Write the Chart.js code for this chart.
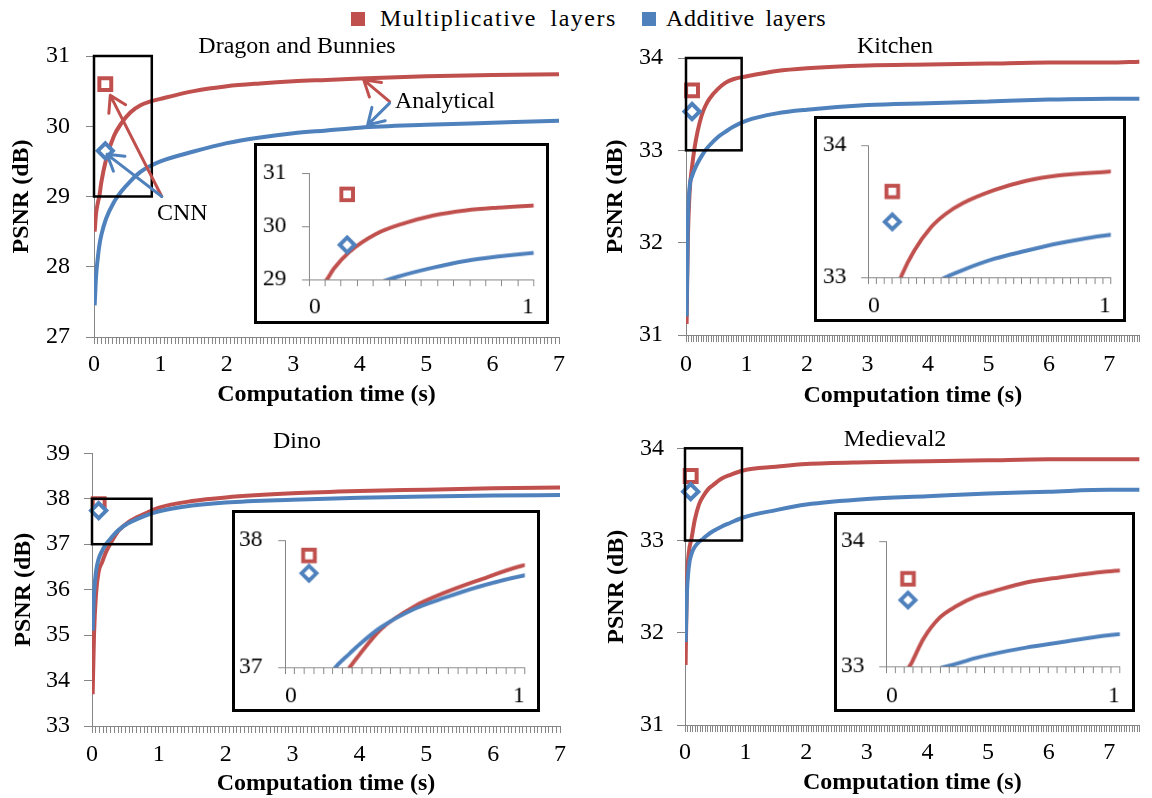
<!DOCTYPE html>
<html>
<head>
<meta charset="utf-8">
<script src="https://cdn.jsdelivr.net/npm/chart.js@4.4.0/dist/chart.umd.min.js"></script>
<style>
  html, body { margin: 0; padding: 0; background: #fff; overflow: hidden; }
  #page { position: relative; width: 1152px; height: 798px; font-family: "Liberation Serif", "Times New Roman", serif; }
  canvas { position: absolute; }
  .inset { border: 3px solid #000; background: #fff; }
  .key { position: absolute; top: 12px; width: 14px; height: 14px; }
  .keytext { position: absolute; top: 4px; font-size: 24px; line-height: 28px; white-space: nowrap; }
</style>
</head>
<body>
<div id="page">
  <div class="key" style="left:351px;background:#C0504D"></div>
  <div class="keytext" style="left:380px;letter-spacing:1.5px;word-spacing:6px">Multiplicative layers</div>
  <div class="key" style="left:642px;background:#4F81BD"></div>
  <div class="keytext" style="left:666px;letter-spacing:0.6px;word-spacing:4px">Additive layers</div>
</div>
<script>
// ---- data ----
const panelTitles = ["Dragon and Bunnies", "Kitchen", "Dino", "Medieval2"];

const dragonTime = [0.01, 0.03, 0.06, 0.08, 0.11, 0.18, 0.3, 0.41, 0.55, 0.7, 0.84, 1.0, 1.5, 2, 2.5, 3, 3.5, 4, 5, 6, 7];
const dragonMult = [28.5, 28.75, 28.92, 29.0, 29.2, 29.52, 29.86, 30.04, 30.2, 30.3, 30.35, 30.39, 30.5, 30.57, 30.61, 30.64, 30.66, 30.68, 30.71, 30.73, 30.74];
const dragonAdd = [27.45, 27.85, 28.15, 28.3, 28.45, 28.68, 28.92, 29.07, 29.22, 29.35, 29.43, 29.5, 29.64, 29.76, 29.84, 29.9, 29.94, 29.98, 30.02, 30.05, 30.08];

const kitchenTime = [0.01, 0.03, 0.06, 0.1, 0.14, 0.19, 0.26, 0.32, 0.39, 0.52, 0.65, 0.78, 0.99, 1.5, 2, 3, 4, 5, 6, 7, 7.5];
const kitchenMult = [31.12, 32.0, 32.55, 32.82, 33.02, 33.2, 33.38, 33.48, 33.56, 33.66, 33.73, 33.77, 33.8, 33.86, 33.89, 33.92, 33.93, 33.94, 33.95, 33.95, 33.96];
const kitchenAdd = [31.2, 32.2, 32.6, 32.72, 32.79, 32.86, 32.94, 33.0, 33.055, 33.14, 33.2, 33.255, 33.32, 33.4, 33.44, 33.49, 33.51, 33.53, 33.55, 33.56, 33.56];

const dinoTime = [0.01, 0.03, 0.06, 0.1, 0.15, 0.21, 0.27, 0.31, 0.4, 0.54, 0.67, 0.8, 0.99, 1.5, 2, 3, 4, 5, 6, 7];
const dinoMult = [33.7, 35.0, 35.9, 36.4, 36.6, 36.83, 37.0, 37.1, 37.3, 37.48, 37.59, 37.68, 37.8, 37.95, 38.03, 38.12, 38.17, 38.2, 38.23, 38.25];
const dinoAdd = [35.1, 35.9, 36.4, 36.68, 36.85, 37.0, 37.11, 37.18, 37.315, 37.46, 37.55, 37.63, 37.72, 37.85, 37.92, 37.98, 38.02, 38.05, 38.07, 38.08];

const medievalTime = [0.01, 0.03, 0.06, 0.11, 0.16, 0.23, 0.3, 0.38, 0.46, 0.6, 0.74, 0.96, 1.5, 2, 3, 4, 5, 6, 7, 7.5];
const medievalMult = [31.65, 32.5, 32.85, 33.03, 33.22, 33.39, 33.48, 33.555, 33.6, 33.67, 33.71, 33.76, 33.8, 33.83, 33.85, 33.86, 33.87, 33.88, 33.88, 33.88];
const medievalAdd = [31.9, 32.4, 32.7, 32.86, 32.93, 32.985, 33.02, 33.065, 33.1, 33.15, 33.19, 33.25, 33.33, 33.39, 33.45, 33.48, 33.51, 33.53, 33.55, 33.55];

// CNN results (one point per scene)
const cnnTime = [0.17, 0.1, 0.1, 0.094];
const cnnMult = [30.6, 33.65, 37.88, 33.7];
const cnnAdd = [29.65, 33.42, 37.74, 33.53];

// tick labels
const mainXTicks = ["0", "1", "2", "3", "4", "5", "6", "7"];
const insetXTicks = ["0", "1"];
const dragonYTicks = [27, 28, 29, 30, 31];
const kitchenYTicks = [31, 32, 33, 34];
const dinoYTicks = [33, 34, 35, 36, 37, 38, 39];
const medievalYTicks = [31, 32, 33, 34];
const dragonZoomY = [29, 30, 31];
const kitchenZoomY = [33, 34];
const dinoZoomY = [37, 38];
const medievalZoomY = [33, 34];

// ---- styling / layout ----
const RED = "#C0504D", BLUE = "#4F81BD", AXIS = "#868686";
Chart.defaults.font.family = '"Liberation Serif", "Times New Roman", serif';
Chart.defaults.font.size = 24;
Chart.defaults.color = "#000";

const panels = [
  { t: dragonTime, mult: dragonMult, add: dragonAdd, yTicks: dragonYTicks, zoomY: dragonZoomY, boxX: 0.87,
    canvas: [0, 0, 576, 410], pad: { left: 0, top: 56, right: 17, bottom: 0 }, yW: 94, xH: 73,
    yTitlePad: 7.6, yTickPad: 16, xTickPad: 6.6, xTitlePad: 0.6, xMax: 7, perUnit: 18, titlePos: [297, 46.7],
    inset: { box: [254, 143, 301, 187], pad: { left: 0, top: 13, right: 7, bottom: 0 }, yW: 53, xH: 43, yTickPad: 16, xTickPad: 7.6, n: 14 },
    arrows: [
      { from: [1.02, 29.0], to: [0.245, 30.44], color: RED },
      { from: [1.02, 29.0], to: [0.196, 29.6], color: BLUE },
      { from: [4.45, 30.35], to: [4.06, 30.66], color: RED },
      { from: [4.45, 30.33], to: [4.12, 30.02], color: BLUE }
    ],
    notes: [
      { text: "CNN", at: [1.33, 28.75], align: "center" },
      { text: "Analytical", at: [4.53, 30.35], align: "left" }
    ] },
  { t: kitchenTime, mult: kitchenMult, add: kitchenAdd, yTicks: kitchenYTicks, zoomY: kitchenZoomY, boxX: 0.92,
    canvas: [576, 0, 576, 410], pad: { left: 0, top: 58, right: 0, bottom: 0 }, yW: 110, xH: 75,
    yTitlePad: 25.6, yTickPad: 15, xTickPad: 8.6, xTitlePad: 0, xMax: 7.5, perUnit: 24, titlePos: [319, 46.7],
    inset: { box: [814, 116, 318, 212], pad: { left: 0, top: 17, right: 7, bottom: 0 }, yW: 52, xH: 43, yTickPad: 15, xTickPad: 8.3, n: 30 } },
  { t: dinoTime, mult: dinoMult, add: dinoAdd, yTicks: dinoYTicks, zoomY: dinoZoomY, boxX: 0.89,
    canvas: [0, 410, 576, 388], pad: { left: 0, top: 43.3, right: 16, bottom: 0 }, yW: 92, xH: 72,
    yTitlePad: 9.6, yTickPad: 14, xTickPad: 7.6, xTitlePad: 0, xMax: 7, perUnit: 18, titlePos: [297, 31.7],
    inset: { box: [232, 510, 314, 208], pad: { left: 0, top: 17, right: 8, bottom: 0 }, yW: 51, xH: 43, yTickPad: 16, xTickPad: 8.3, n: 25 } },
  { t: medievalTime, mult: medievalMult, add: medievalAdd, yTicks: medievalYTicks, zoomY: medievalZoomY, boxX: 0.94,
    canvas: [576, 410, 576, 388], pad: { left: 0, top: 38.3, right: 0, bottom: 0 }, yW: 109, xH: 73,
    yTitlePad: 26.6, yTickPad: 13, xTickPad: 6.6, xTitlePad: 0.6, xMax: 7.5, perUnit: 24, titlePos: [319, 30],
    inset: { box: [834, 512, 307, 206], pad: { left: 0, top: 16, right: 7, bottom: 0 }, yW: 50, xH: 44, yTickPad: 15, xTickPad: 9.3, n: 26 } }
];

const page = document.getElementById("page");

function addCanvas(left, top, w, h, cls) {
  const c = document.createElement("canvas");
  c.width = w; c.height = h;
  c.style.left = left + "px"; c.style.top = top + "px";
  if (cls) c.className = cls;
  page.appendChild(c);
  return c;
}

function points(t, v) { return t.map((x, i) => ({ x: x, y: v[i] })); }

function datasets(p, i, clip) {
  return [
    { data: points(p.t, p.mult), borderColor: RED, borderWidth: 4, pointRadius: 0, cubicInterpolationMode: "monotone", order: 4, clip: clip },
    { data: points(p.t, p.add), borderColor: BLUE, borderWidth: 4, pointRadius: 0, cubicInterpolationMode: "monotone", order: 3, clip: clip },
    { data: [{ x: cnnTime[i], y: cnnMult[i] }], showLine: false, pointStyle: "rect", pointRadius: 8.4,
      borderColor: RED, backgroundColor: "#fff", borderWidth: 4, order: 2, clip: false },
    { data: [{ x: cnnTime[i], y: cnnAdd[i] }], showLine: false, pointStyle: "rectRot", pointRadius: 7.6,
      borderColor: BLUE, backgroundColor: "#fff", borderWidth: 4, order: 1, clip: false }
  ];
}

function stepTicks(max, n) {
  const out = [];
  for (let k = 0; k <= Math.round(max * n); k++) out.push({ value: k / n });
  return out;
}

function drawArrow(ctx, x0, y0, x1, y1, color) {
  const ang = Math.atan2(y1 - y0, x1 - x0), L = 18, s = 0.55;
  ctx.strokeStyle = color; ctx.lineWidth = 3; ctx.lineCap = "round"; ctx.lineJoin = "round";
  ctx.beginPath();
  ctx.moveTo(x0, y0); ctx.lineTo(x1, y1);
  ctx.moveTo(x1 - L * Math.cos(ang - s), y1 - L * Math.sin(ang - s));
  ctx.lineTo(x1, y1);
  ctx.lineTo(x1 - L * Math.cos(ang + s), y1 - L * Math.sin(ang + s));
  ctx.stroke();
}

const decor = {
  id: "decor",
  afterDatasetsDraw(chart, args, o) {
    const { ctx } = chart, x = chart.scales.x, y = chart.scales.y;
    ctx.save();
    if (o.box) {
      const x0 = x.getPixelForValue(0), x1 = x.getPixelForValue(o.box[0]);
      const yTop = y.getPixelForValue(o.box[2]), yBot = y.getPixelForValue(o.box[1]);
      ctx.strokeStyle = "#000"; ctx.lineWidth = 2.5;
      ctx.strokeRect(x0, yTop, x1 - x0, yBot - yTop);
    }
    (o.arrows || []).forEach(a => drawArrow(ctx,
      x.getPixelForValue(a.from[0]), y.getPixelForValue(a.from[1]),
      x.getPixelForValue(a.to[0]), y.getPixelForValue(a.to[1]), a.color));
    ctx.fillStyle = "#000"; ctx.textBaseline = "middle";
    ctx.font = '24px "Liberation Serif", serif';
    (o.notes || []).forEach(n => {
      ctx.textAlign = n.align;
      ctx.fillText(n.text, x.getPixelForValue(n.at[0]), y.getPixelForValue(n.at[1]));
    });
    if (o.title) {
      ctx.textAlign = "center";
      ctx.fillText(o.title.text, o.title.pos[0], o.title.pos[1]);
    }
    ctx.restore();
  }
};

panels.forEach((p, i) => {
  // main chart
  const [cl, ct, cw, ch] = p.canvas;
  new Chart(addCanvas(cl, ct, cw, ch), {
    type: "line",
    data: { datasets: datasets(p, i, undefined) },
    plugins: [decor],
    options: {
      responsive: false, animation: false,
      layout: { padding: p.pad },
      plugins: {
        legend: { display: false }, tooltip: { enabled: false },
        decor: {
          box: [p.boxX, p.zoomY[0], p.zoomY[p.zoomY.length - 1]],
          arrows: p.arrows, notes: p.notes,
          title: { text: panelTitles[i], pos: p.titlePos }
        }
      },
      scales: {
        x: {
          type: "linear", min: 0, max: p.xMax,
          afterBuildTicks: s => { s.ticks = stepTicks(p.xMax, p.perUnit); },
          afterFit: s => { s.height = p.xH; },
          ticks: {
            autoSkip: false, maxRotation: 0, padding: p.xTickPad,
            callback: (v, k) => (k % p.perUnit === 0 ? mainXTicks[k / p.perUnit] : "")
          },
          grid: { drawOnChartArea: false, tickLength: 7, color: AXIS },
          border: { color: AXIS },
          title: { display: true, text: "Computation time (s)", font: { size: 24, weight: "bold" },
                   padding: { top: 0, bottom: p.xTitlePad } }
        },
        y: {
          type: "linear", min: p.yTicks[0], max: p.yTicks[p.yTicks.length - 1],
          afterBuildTicks: s => { s.ticks = p.yTicks.map(v => ({ value: v })); },
          afterFit: s => { s.width = p.yW; },
          ticks: { padding: p.yTickPad, callback: v => String(v) },
          grid: { drawOnChartArea: false, tickLength: 8, color: AXIS },
          border: { color: AXIS },
          title: { display: true, text: "PSNR (dB)", font: { size: 24, weight: "bold" },
                   padding: { top: p.yTitlePad, bottom: 0 } }
        }
      }
    }
  });

  // zoomed inset
  const q = p.inset;
  const [bl, bt, bw, bh] = q.box;
  new Chart(addCanvas(bl, bt, bw - 6, bh - 6, "inset"), {
    type: "line",
    data: { datasets: datasets(p, i, 0) },
    options: {
      responsive: false, animation: false,
      layout: { padding: q.pad },
      plugins: { legend: { display: false }, tooltip: { enabled: false } },
      scales: {
        x: {
          type: "linear", min: 0, max: 1,
          afterBuildTicks: s => { s.ticks = stepTicks(1, q.n); },
          afterFit: s => { s.height = q.xH; },
          ticks: {
            autoSkip: false, maxRotation: 0, padding: q.xTickPad, align: "inner",
            callback: (v, k) => (k === 0 ? insetXTicks[0] : (k === q.n ? insetXTicks[1] : ""))
          },
          grid: { drawOnChartArea: false, tickLength: 7, color: AXIS },
          border: { color: AXIS }
        },
        y: {
          type: "linear", min: p.zoomY[0], max: p.zoomY[p.zoomY.length - 1],
          afterBuildTicks: s => { s.ticks = p.zoomY.map(v => ({ value: v })); },
          afterFit: s => { s.width = q.yW; },
          ticks: { padding: q.yTickPad, font: { size: 24, lineHeight: 1 }, callback: v => String(v) },
          grid: { drawOnChartArea: false, tickLength: 7, color: AXIS },
          border: { color: AXIS }
        }
      }
    }
  });
});
</script>
</body>
</html>
